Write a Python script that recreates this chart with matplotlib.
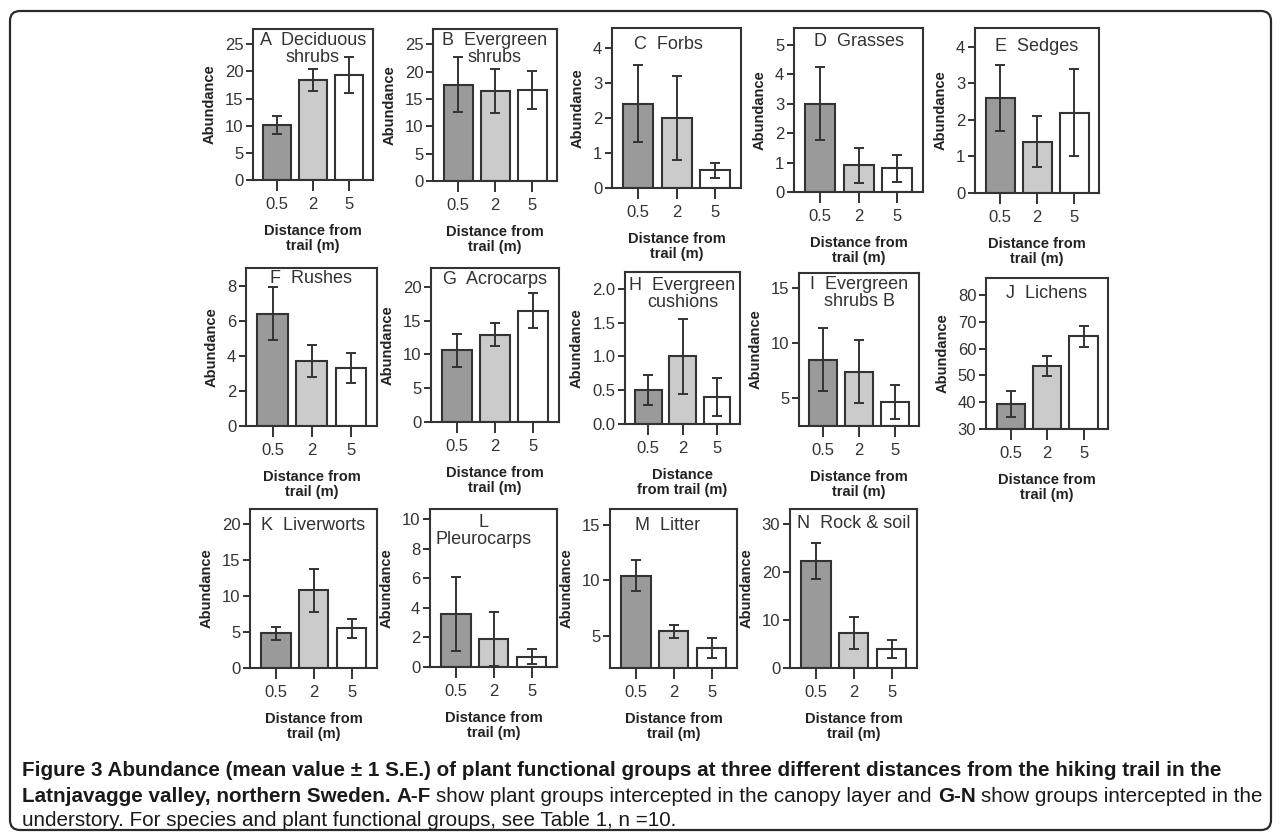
import matplotlib
matplotlib.use("Agg")
import matplotlib.pyplot as plt
from matplotlib.patches import FancyBboxPatch
from matplotlib.transforms import IdentityTransform
import numpy as np

plt.rcParams['font.family'] = ['Liberation Sans', 'DejaVu Sans']

# ---------------- data ----------------
distances = ["0.5", "2", "5"]
letters = ["A", "B", "C", "D", "E", "F", "G", "H", "I", "J", "K", "L", "M", "N"]
names = ["Deciduous\nshrubs", "Evergreen\nshrubs", "Forbs", "Grasses", "Sedges",
         "Rushes", "Acrocarps", "Evergreen\ncushions", "Evergreen\nshrubs B",
         "Lichens", "Liverworts", "\nPleurocarps", "Litter", "Rock & soil"]
mean_05 = [10.1, 17.6, 2.4, 3.0, 2.6, 6.4, 10.6, 0.5, 8.5, 39.3, 4.8, 3.6, 10.4, 22.3]
mean_2 = [18.4, 16.5, 2.0, 0.9, 1.4, 3.7, 12.9, 1.0, 7.4, 53.5, 10.8, 1.9, 5.4, 7.3]
mean_5 = [19.3, 16.7, 0.5, 0.8, 2.2, 3.3, 16.5, 0.4, 4.6, 64.5, 5.5, 0.7, 3.9, 3.9]
se_05 = [1.7, 5.0, 1.1, 1.25, 0.9, 1.5, 2.5, 0.22, 2.9, 4.8, 0.9, 2.5, 1.4, 3.8]
se_2 = [2.0, 4.0, 1.2, 0.6, 0.7, 0.9, 1.7, 0.56, 2.85, 3.9, 3.0, 1.8, 0.6, 3.3]
se_5 = [3.3, 3.5, 0.22, 0.47, 1.2, 0.85, 2.6, 0.28, 1.55, 4.0, 1.3, 0.5, 0.9, 1.9]
y_lo = [0, 0, 0, 0, 0, 0, 0, 0, 2.45, 30, 0, 0, 2.1, 0]
y_hi = [27.8, 27.8, 4.57, 5.56, 4.52, 9.0, 22.8, 2.25, 16.4, 86.3, 22.1, 10.7, 16.4, 33.2]
tick_first = [0, 0, 0, 0, 0, 0, 0, 0, 5, 30, 0, 0, 5, 0]
tick_last = [25, 25, 4, 5, 4, 8, 20, 2.0, 15, 80, 20, 10, 15, 30]
tick_step = [5, 5, 1, 1, 1, 2, 5, 0.5, 5, 10, 5, 2, 5, 10]
xlabels = ["Distance from\ntrail (m)"] * 14
xlabels[7] = "Distance\nfrom trail (m)"

# ---------------- layout (pixels) ----------------
W, H = 1281, 836
boxes = [(253, 29, 373, 180), (433, 29, 557, 181), (612, 28, 741, 188),
         (794, 28, 923, 192), (975, 28, 1099, 193),
         (246, 268, 377, 426), (431, 268, 559, 422), (625, 272, 740, 424),
         (799, 273, 919, 426), (986, 278, 1108, 429),
         (250, 509, 377, 668), (430, 509, 557, 667), (610, 509, 737, 668),
         (790, 509, 917, 668)]
title_drop = [3, 3, 8, 5, 10, 2, 3, 5, 3, 7, 8, 5, 8, 6]
title_shift = [0, 0, -8, 0, 0, 0, 0, 0, 0, 0, 0, -10, -6, 0]

bar_colors = ["#9a9a9a", "#cbcbcb", "#ffffff"]
dark = "#333333"

fig = plt.figure(figsize=(W / 100, H / 100), dpi=100)

for i in range(14):
    x0, y0, x1, y1 = boxes[i]
    ax = fig.add_axes([x0 / W, 1 - y1 / H, (x1 - x0) / W, (y1 - y0) / H])
    xs = np.arange(3)
    means = np.array([mean_05[i], mean_2[i], mean_5[i]])
    ses = np.array([se_05[i], se_2[i], se_5[i]])
    ax.bar(xs, means - y_lo[i], bottom=y_lo[i], width=0.78, color=bar_colors,
           edgecolor=dark, linewidth=1.5, zorder=2)
    ax.errorbar(xs, means, yerr=ses, fmt='none', ecolor=dark, elinewidth=1.4,
                capsize=3.5, capthick=1.4, zorder=3)
    ax.set_xlim(-0.68, 2.67)
    ax.set_ylim(y_lo[i], y_hi[i])
    ticks = np.arange(tick_first[i], tick_last[i] + tick_step[i] / 2, tick_step[i])
    ax.set_yticks(ticks)
    if i == 7:
        ax.set_yticklabels([f"{t:.1f}" for t in ticks])
    else:
        ax.set_yticklabels([f"{t:g}" for t in ticks])
    ax.set_xticks(xs)
    ax.set_xticklabels(distances)
    ax.tick_params(axis='x', length=8, width=1.4, pad=4, labelsize=12,
                   color=dark, labelcolor=dark)
    ax.tick_params(axis='y', length=5, width=1.4, pad=2, labelsize=12,
                   color=dark, labelcolor=dark)
    for sp in ax.spines.values():
        sp.set_linewidth(1.5)
        sp.set_color(dark)
    ax.set_ylabel("Abundance", fontsize=10.5, fontweight='bold', labelpad=6,
                  color='#222222')
    ax.set_xlabel(xlabels[i], fontsize=10.5, fontweight='bold', labelpad=9,
                  color='#222222', linespacing=1.1)
    if names[i].startswith("\n"):
        title = letters[i] + names[i]
    else:
        title = f"{letters[i]}  {names[i]}"
    ax.annotate(title, xy=(0.5, 1), xycoords='axes fraction',
                xytext=(title_shift[i] * 0.72, -title_drop[i] * 0.72),
                textcoords='offset points',
                ha='center', va='top', fontsize=13, color=dark,
                linespacing=1.0, multialignment='center', zorder=5)

# ---------------- border ----------------
border = FancyBboxPatch((10, H - 830), 1261, 819,
                        boxstyle="round,pad=0,rounding_size=10",
                        transform=IdentityTransform(), fill=False,
                        edgecolor="#2a2a2a", linewidth=1.6)
fig.patches.append(border)

# ---------------- caption ----------------
renderer = fig.canvas.get_renderer()
cap_color = "#1a1a1a"
line1 = ("Figure 3 Abundance (mean value \u00b1 1 S.E.) of plant functional groups at three "
         "different distances from the hiking trail in the")
line2 = [("Latnjavagge valley, northern Sweden.", 'bold'), ("A-F", 'bold'),
         ("show plant groups intercepted in the canopy layer and", 'normal'),
         ("G-N", 'bold'), ("show groups intercepted in the", 'normal')]
line3 = "understory. For species and plant functional groups, see Table 1, n =10."

cap_x = 22


def text_width(s, weight, size):
    t = fig.text(0, 0, s, fontsize=size, fontweight=weight)
    w = t.get_window_extent(renderer).width
    t.remove()
    return w


def runs_width(runs, size):
    total = 0
    for k, (s, weight) in enumerate(runs):
        total += text_width(s, weight, size)
        if k < len(runs) - 1:
            total += text_width("x x", weight, size) - text_width("xx", weight, size)
    return total


w1 = runs_width([(line1, 'bold')], 12)
w2 = runs_width(line2, 12)
cap_size = min(12 * (1249 - cap_x) / w1, 12 * (1260 - cap_x) / w2)


def draw_runs(y_px, runs):
    x = cap_x
    for k, (s, weight) in enumerate(runs):
        t = fig.text(x / W, 1 - y_px / H, s, fontsize=cap_size, fontweight=weight,
                     color=cap_color, va='center', ha='left')
        bb = t.get_window_extent(renderer)
        sp = text_width("x x", weight, cap_size) - text_width("xx", weight, cap_size)
        x = bb.x1 + sp


draw_runs(771, [(line1, 'bold')])
draw_runs(796, line2)
draw_runs(821, [(line3, 'normal')])

fig.savefig("out.png", dpi=100)
